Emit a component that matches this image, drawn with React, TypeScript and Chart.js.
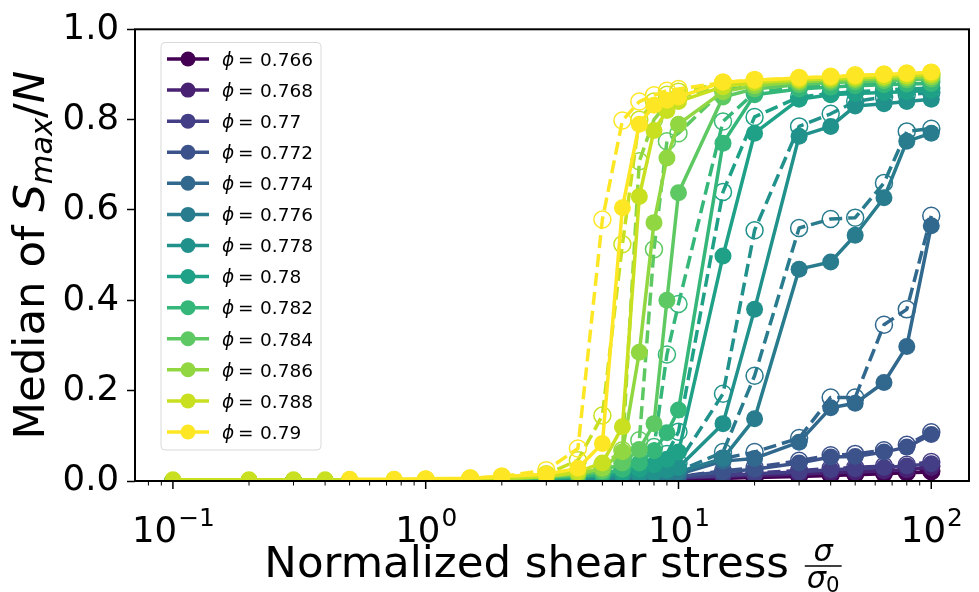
import React, { useEffect, useRef } from 'react';
import { Chart, registerables } from 'chart.js';

Chart.register(...registerables);

// ---------------- data ----------------
const stress = [0.1, 0.2, 0.3, 0.4, 0.5, 0.75, 1, 1.5, 2, 3, 4, 5, 6, 7, 8, 9, 10, 15, 20, 30, 40, 50, 65, 80, 100];

const phiLabels = ['0.766', '0.768', '0.77', '0.772', '0.774', '0.776', '0.778', '0.78', '0.782', '0.784', '0.786', '0.788', '0.79'];

const colors = ['#440154', '#482173', '#433e85', '#3b528b', '#31688e', '#287c8e', '#21918c', '#1fa187', '#35b779', '#5ec962', '#91d742', '#c8e020', '#fde725'];

// solid lines, filled markers
const solid766 = [0, 0, 0, 0, 0, 0, 0, 0, 0, 0, 0, 0.001, 0.001, 0.002, 0.002, 0.003, 0.004, 0.006, 0.008, 0.01, 0.012, 0.014, 0.016, 0.018, 0.02];
const solid768 = [0, 0, 0, 0, 0, 0, 0, 0, 0, 0, 0.001, 0.001, 0.002, 0.003, 0.004, 0.005, 0.006, 0.01, 0.012, 0.015, 0.018, 0.02, 0.022, 0.025, 0.03];
const solid770 = [0, 0, 0, 0, 0, 0, 0, 0, 0, 0.001, 0.002, 0.002, 0.003, 0.004, 0.005, 0.006, 0.008, 0.012, 0.016, 0.02, 0.025, 0.027, 0.03, 0.033, 0.038];
const solid772 = [0, 0, 0, 0, 0, 0, 0, 0, 0, 0.001, 0.002, 0.003, 0.004, 0.005, 0.006, 0.008, 0.01, 0.02, 0.026, 0.04, 0.053, 0.054, 0.064, 0.075, 0.103];
const solid774 = [0, 0, 0, 0, 0, 0, 0, 0, 0, 0.002, 0.003, 0.004, 0.005, 0.007, 0.009, 0.012, 0.015, 0.044, 0.05, 0.086, 0.162, 0.172, 0.218, 0.298, 0.565];
const solid776 = [0, 0, 0, 0, 0, 0, 0, 0, 0, 0.002, 0.003, 0.005, 0.007, 0.009, 0.012, 0.015, 0.02, 0.05, 0.138, 0.469, 0.485, 0.544, 0.627, 0.752, 0.77];
const solid778 = [0, 0, 0, 0, 0, 0, 0, 0.001, 0.002, 0.004, 0.006, 0.008, 0.011, 0.015, 0.019, 0.024, 0.03, 0.127, 0.38, 0.763, 0.785, 0.83, 0.835, 0.84, 0.845];
const solid780 = [0, 0, 0, 0, 0, 0, 0, 0.001, 0.002, 0.005, 0.008, 0.012, 0.018, 0.026, 0.036, 0.048, 0.064, 0.498, 0.77, 0.845, 0.855, 0.858, 0.86, 0.862, 0.865];
const solid782 = [0, 0, 0, 0, 0, 0, 0, 0.002, 0.003, 0.006, 0.01, 0.016, 0.026, 0.04, 0.067, 0.107, 0.157, 0.748, 0.855, 0.868, 0.872, 0.875, 0.877, 0.879, 0.88];
const solid784 = [0, 0, 0, 0, 0, 0, 0, 0.002, 0.004, 0.008, 0.014, 0.022, 0.04, 0.07, 0.127, 0.4, 0.638, 0.85, 0.868, 0.878, 0.882, 0.884, 0.886, 0.888, 0.89];
const solid786 = [0, 0, 0, 0, 0, 0, 0.001, 0.002, 0.004, 0.01, 0.016, 0.028, 0.065, 0.285, 0.572, 0.715, 0.79, 0.862, 0.875, 0.884, 0.887, 0.889, 0.891, 0.893, 0.895];
const solid788 = [0.003, 0.003, 0.003, 0.003, 0.003, 0.003, 0.004, 0.005, 0.006, 0.01, 0.02, 0.04, 0.12, 0.63, 0.776, 0.82, 0.84, 0.873, 0.882, 0.888, 0.891, 0.893, 0.895, 0.897, 0.9];
const solid790 = [null, null, null, null, 0.004, 0.004, 0.005, 0.006, 0.01, 0.015, 0.028, 0.083, 0.605, 0.79, 0.832, 0.843, 0.85, 0.883, 0.887, 0.892, 0.895, 0.897, 0.9, 0.902, 0.905];

// dashed lines, open markers
const dashed766 = [null, null, null, null, null, null, 0, 0, 0, 0, 0, 0.001, 0.002, 0.002, 0.003, 0.004, 0.005, 0.007, 0.009, 0.012, 0.014, 0.016, 0.018, 0.02, 0.022];
const dashed768 = [null, null, null, null, null, null, 0, 0, 0, 0, 0.001, 0.002, 0.003, 0.004, 0.005, 0.006, 0.007, 0.011, 0.014, 0.017, 0.02, 0.022, 0.025, 0.028, 0.033];
const dashed770 = [null, null, null, null, null, null, 0, 0, 0, 0.001, 0.002, 0.003, 0.004, 0.005, 0.006, 0.007, 0.009, 0.014, 0.018, 0.023, 0.028, 0.03, 0.033, 0.036, 0.042];
const dashed772 = [null, null, null, null, null, null, 0, 0, 0, 0.001, 0.002, 0.003, 0.004, 0.005, 0.006, 0.007, 0.01, 0.022, 0.03, 0.045, 0.057, 0.06, 0.068, 0.08, 0.108];
const dashed774 = [null, null, null, null, null, null, 0, 0, 0, 0.002, 0.003, 0.004, 0.005, 0.007, 0.009, 0.012, 0.016, 0.05, 0.064, 0.095, 0.185, 0.185, 0.346, 0.38, 0.587];
const dashed776 = [null, null, null, null, null, null, 0, 0, 0, 0.002, 0.003, 0.005, 0.007, 0.009, 0.012, 0.016, 0.022, 0.064, 0.233, 0.56, 0.58, 0.583, 0.66, 0.774, 0.78];
const dashed778 = [null, null, null, null, null, null, 0, 0.001, 0.002, 0.004, 0.006, 0.009, 0.013, 0.018, 0.024, 0.03, 0.04, 0.193, 0.555, 0.785, 0.813, 0.84, 0.85, 0.855, 0.86];
const dashed780 = [null, null, null, null, null, null, 0, 0.001, 0.002, 0.005, 0.008, 0.013, 0.02, 0.03, 0.042, 0.06, 0.109, 0.64, 0.806, 0.85, 0.858, 0.862, 0.865, 0.868, 0.87];
const dashed782 = [null, null, null, null, null, null, 0, 0.002, 0.003, 0.006, 0.01, 0.017, 0.028, 0.045, 0.075, 0.28, 0.392, 0.796, 0.86, 0.872, 0.876, 0.878, 0.88, 0.882, 0.884];
const dashed784 = [null, null, null, null, null, null, 0, 0.002, 0.004, 0.008, 0.014, 0.025, 0.045, 0.09, 0.513, 0.752, 0.77, 0.865, 0.875, 0.882, 0.885, 0.887, 0.889, 0.89, 0.892];
const dashed786 = [null, null, null, null, null, null, 0.001, 0.003, 0.005, 0.01, 0.02, 0.035, 0.068, 0.708, 0.8, 0.835, 0.85, 0.875, 0.882, 0.887, 0.89, 0.892, 0.894, 0.896, 0.898];
const dashed788 = [null, null, null, null, null, null, 0.002, 0.004, 0.006, 0.015, 0.046, 0.145, 0.524, 0.8, 0.84, 0.855, 0.862, 0.88, 0.886, 0.89, 0.893, 0.895, 0.897, 0.899, 0.9];
const dashed790 = [null, null, null, null, null, null, 0.003, 0.006, 0.01, 0.024, 0.072, 0.579, 0.798, 0.84, 0.854, 0.864, 0.868, 0.882, 0.888, 0.892, 0.895, 0.898, 0.9, 0.902, 0.904];

const solidSeries = [solid766, solid768, solid770, solid772, solid774, solid776, solid778, solid780, solid782, solid784, solid786, solid788, solid790];
const dashedSeries = [dashed766, dashed768, dashed770, dashed772, dashed774, dashed776, dashed778, dashed780, dashed782, dashed784, dashed786, dashed788, dashed790];

const xTickValues = [0.1, 1, 10, 100];
const xTickExponents = ['\u22121', '0', '1', '2'];
const yTickValues = [0, 0.2, 0.4, 0.6, 0.8, 1.0];

// ---------------- drawing helpers ----------------
const FAMILY = "'DejaVu Sans'";
const TICK_PX = 35.5;
const LABEL_PX = 43.5;
const LEGEND_PX = 18.5;

function toPoints(vals: (number | null)[]) {
  const pts: { x: number; y: number }[] = [];
  stress.forEach((x, i) => {
    const v = vals[i];
    if (v !== null && v !== undefined) pts.push({ x, y: v });
  });
  return pts;
}

const decorPlugin = {
  id: 'decor',
  afterDraw(chart: any) {
    const ctx: CanvasRenderingContext2D = chart.ctx;
    const { left, right, top, bottom } = chart.chartArea;
    const xs = chart.scales.x;
    ctx.save();

    // spines
    ctx.strokeStyle = '#000';
    ctx.lineWidth = 2;
    ctx.strokeRect(left, top, right - left, bottom - top);

    // x ticks (major + minor)
    ctx.strokeStyle = '#000';
    for (let e = -2; e <= 2; e++) {
      for (let m = 1; m <= 9; m++) {
        const v = m * Math.pow(10, e);
        if (v < xs.min || v > xs.max) continue;
        const px = xs.getPixelForValue(v);
        const major = m === 1;
        ctx.lineWidth = major ? 1.5 : 1;
        ctx.beginPath();
        ctx.moveTo(px, bottom + 1);
        ctx.lineTo(px, bottom + (major ? 8 : 4.5));
        ctx.stroke();
      }
    }

    // x tick labels 10^n
    ctx.fillStyle = '#000';
    ctx.textAlign = 'left';
    ctx.textBaseline = 'alphabetic';
    xTickValues.forEach((v, i) => {
      const px = xs.getPixelForValue(v);
      ctx.font = `${TICK_PX}px ${FAMILY}`;
      const bw = ctx.measureText('10').width;
      ctx.font = `${TICK_PX * 0.7}px ${FAMILY}`;
      const ew = ctx.measureText(xTickExponents[i]).width;
      const x0 = px - (bw + ew) / 2;
      const by = bottom + 61;
      ctx.font = `${TICK_PX}px ${FAMILY}`;
      ctx.fillText('10', x0, by);
      ctx.font = `${TICK_PX * 0.7}px ${FAMILY}`;
      ctx.fillText(xTickExponents[i], x0 + bw + 1, by - 16);
    });

    // x axis title
    {
      const main = 'Normalized shear stress ';
      ctx.font = `${LABEL_PX}px ${FAMILY}`;
      const mw = ctx.measureText(main).width;
      const fs = LABEL_PX * 0.7;
      ctx.font = `italic ${fs}px ${FAMILY}`;
      const sw = ctx.measureText('\u03c3').width;
      ctx.font = `${fs * 0.7}px ${FAMILY}`;
      const zw = ctx.measureText('0').width;
      const fw = sw + zw + 4;
      const cx = (left + right) / 2;
      const x0 = cx - (mw + fw) / 2;
      const by = bottom + 96;
      ctx.font = `${LABEL_PX}px ${FAMILY}`;
      ctx.fillText(main, x0, by);
      const fx = x0 + mw + 2;
      ctx.lineWidth = 1.5;
      ctx.beginPath();
      ctx.moveTo(fx, by - 11);
      ctx.lineTo(fx + fw, by - 11);
      ctx.stroke();
      ctx.font = `italic ${fs}px ${FAMILY}`;
      ctx.textAlign = 'center';
      ctx.fillText('\u03c3', fx + fw / 2, by - 16);
      ctx.textAlign = 'left';
      ctx.fillText('\u03c3', fx + 2, by + 11);
      ctx.font = `${fs * 0.7}px ${FAMILY}`;
      ctx.fillText('0', fx + 2 + sw, by + 15);
    }

    // y axis title (rotated)
    {
      ctx.save();
      ctx.translate(44, (top + bottom) / 2);
      ctx.rotate(-Math.PI / 2);
      const parts = [
        { t: 'Median of ', f: `${LABEL_PX}px ${FAMILY}`, dy: 0 },
        { t: 'S', f: `italic ${LABEL_PX}px ${FAMILY}`, dy: 0 },
        { t: 'max', f: `italic ${LABEL_PX * 0.7}px ${FAMILY}`, dy: 8 },
        { t: '/', f: `${LABEL_PX}px ${FAMILY}`, dy: 0 },
        { t: 'N', f: `italic ${LABEL_PX}px ${FAMILY}`, dy: 0 },
      ];
      let total = 0;
      const widths = parts.map((p) => {
        ctx.font = p.f;
        const w = ctx.measureText(p.t).width;
        total += w;
        return w;
      });
      let x = -total / 2;
      ctx.textAlign = 'left';
      parts.forEach((p, i) => {
        ctx.font = p.f;
        ctx.fillText(p.t, x, p.dy);
        x += widths[i];
      });
      ctx.restore();
    }

    // legend
    {
      const bx = 161, byy = 42.5, bw = 160, bh = 407.5;
      ctx.beginPath();
      (ctx as any).roundRect(bx, byy, bw, bh, 4);
      ctx.fillStyle = 'rgba(255,255,255,0.8)';
      ctx.fill();
      ctx.strokeStyle = '#d9d9d9';
      ctx.lineWidth = 1;
      ctx.stroke();
      phiLabels.forEach((lab, i) => {
        const cy = 59 + i * 31.08;
        const c = colors[i];
        ctx.strokeStyle = c;
        ctx.lineWidth = 3.5;
        ctx.beginPath();
        ctx.moveTo(167, cy);
        ctx.lineTo(209, cy);
        ctx.stroke();
        ctx.fillStyle = c;
        ctx.beginPath();
        ctx.arc(188, cy, 7.5, 0, Math.PI * 2);
        ctx.fill();
        ctx.fillStyle = '#000';
        ctx.textAlign = 'left';
        ctx.font = `italic ${LEGEND_PX}px ${FAMILY}`;
        ctx.fillText('\u03d5', 222, cy + 6.8);
        ctx.font = `${LEGEND_PX}px ${FAMILY}`;
        ctx.fillText('=', 238, cy + 6.8);
        ctx.fillText(lab, 260, cy + 6.8);
      });
    }

    ctx.restore();
  },
};

export default function App() {
  const canvasRef = useRef<HTMLCanvasElement | null>(null);

  useEffect(() => {
    document.body.style.margin = '0';
    const canvas = canvasRef.current;
    if (!canvas) return;

    const datasets: any[] = [];
    const n = phiLabels.length;
    dashedSeries.forEach((vals, i) => {
      const c = colors[i];
      datasets.push({
        label: `dashed ${phiLabels[i]}`,
        data: toPoints(vals),
        borderColor: c,
        backgroundColor: c,
        borderWidth: 3.5,
        borderDash: [13, 6],
        borderCapStyle: 'butt',
        borderJoinStyle: 'round',
        pointRadius: 8.5,
        pointHoverRadius: 8.5,
        pointBackgroundColor: 'rgba(0,0,0,0)',
        pointBorderColor: c,
        pointBorderWidth: 1.5,
        tension: 0,
        fill: false,
        clip: 0,
        order: 100 - i,
      });
    });
    solidSeries.forEach((vals, i) => {
      const c = colors[i];
      datasets.push({
        label: `\u03d5 = ${phiLabels[i]}`,
        data: toPoints(vals),
        borderColor: c,
        backgroundColor: c,
        borderWidth: 3.5,
        borderCapStyle: 'butt',
        borderJoinStyle: 'round',
        pointRadius: 8.5,
        pointHoverRadius: 8.5,
        pointBackgroundColor: c,
        pointBorderColor: c,
        pointBorderWidth: 0,
        tension: 0,
        fill: false,
        clip: 0,
        order: 100 - n - i,
      });
    });

    const chart = new Chart(canvas, {
      type: 'line',
      data: { datasets },
      options: {
        animation: false,
        responsive: false,
        devicePixelRatio: 1,
        events: [],
        layout: { padding: { top: 25, right: 4, left: 0, bottom: 0 } },
        plugins: { legend: { display: false }, tooltip: { enabled: false }, title: { display: false } },
        scales: {
          x: {
            type: 'logarithmic',
            min: 0.0708,
            max: 141,
            ticks: { display: false },
            grid: { display: false },
            border: { display: false },
            afterFit: (s: any) => {
              s.height = 111;
            },
          },
          y: {
            type: 'linear',
            min: 0,
            max: 1,
            afterBuildTicks: (s: any) => {
              s.ticks = yTickValues.map((v) => ({ value: v }));
            },
            ticks: {
              font: { family: 'DejaVu Sans', size: TICK_PX },
              color: '#000',
              padding: 8,
              callback: (v: any) => Number(v).toFixed(1),
            },
            grid: { drawOnChartArea: false, drawTicks: true, tickLength: 8, tickColor: '#000', tickWidth: 1.5 },
            border: { display: false },
            afterFit: (s: any) => {
              s.width = 135;
            },
          },
        },
      } as any,
      plugins: [decorPlugin],
    });

    return () => chart.destroy();
  }, []);

  return (
    <div style={{ width: 979, height: 592, position: 'relative', background: '#fff' }}>
      <canvas ref={canvasRef} width={979} height={592} style={{ display: 'block' }} />
    </div>
  );
}
